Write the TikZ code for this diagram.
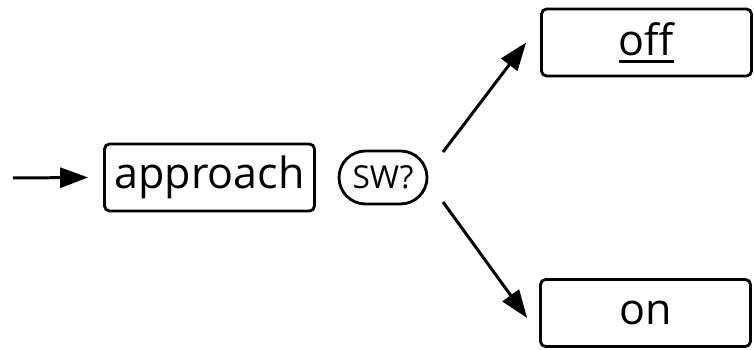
\documentclass[tikz,border=0pt]{standalone}
\usepackage{fontspec}
\setmainfont{Open Sans}
\newcommand{\underlined}[1]{\setbox0\hbox{#1}\rlap{\rule[-0.15cm]{\wd0}{0.06cm}}\box0}
\usetikzlibrary{arrows.meta}

\begin{document}
\begin{tikzpicture}[x=0.02cm, y=-0.02cm]
	\tikzstyle{state} = [rectangle, rounded corners=0.1cm, minimum width=4.2cm, 
	minimum height=1.34cm, text centered, draw=black, line width=1.6pt, inner sep=0pt,
	font=\fontsize{24.5}{29}\selectfont]
	\tikzstyle{choice} = [rectangle, rounded corners=0.53cm, minimum width=1.76cm, 
	minimum height=1.06cm, text centered, draw=black, line width=1.6pt, inner sep=0pt,
	font=\fontsize{18}{22}\selectfont]
	\tikzstyle{arrow} = [line width=1.7pt, -{Triangle[length=0.56cm, width=0.4cm]}]
	\useasboundingbox (0,0) rectangle (754,350);
	\node (approach) [state] at (209.5,177.5) {approach};
	\node (sw) [choice] at (383,177.5) {SW?};
	\node (off) [state] at (646.5,42.5) {\underlined{off}};
	\node (on) [state] at (645.5,313) {on};
	\coordinate (entry) at (13,178);
	\coordinate (forkUp) at (443,152);
	\coordinate (forkDown) at (443,202);
	\draw [arrow] (entry) -- ([xshift=-0.3cm]approach.west);
	\draw [arrow] (forkUp) -- ([xshift=-0.28cm]off.west);
	\draw [arrow] (forkDown) -- ([xshift=-0.24cm, yshift=-0.1cm]on.west);
\end{tikzpicture}
\end{document}
